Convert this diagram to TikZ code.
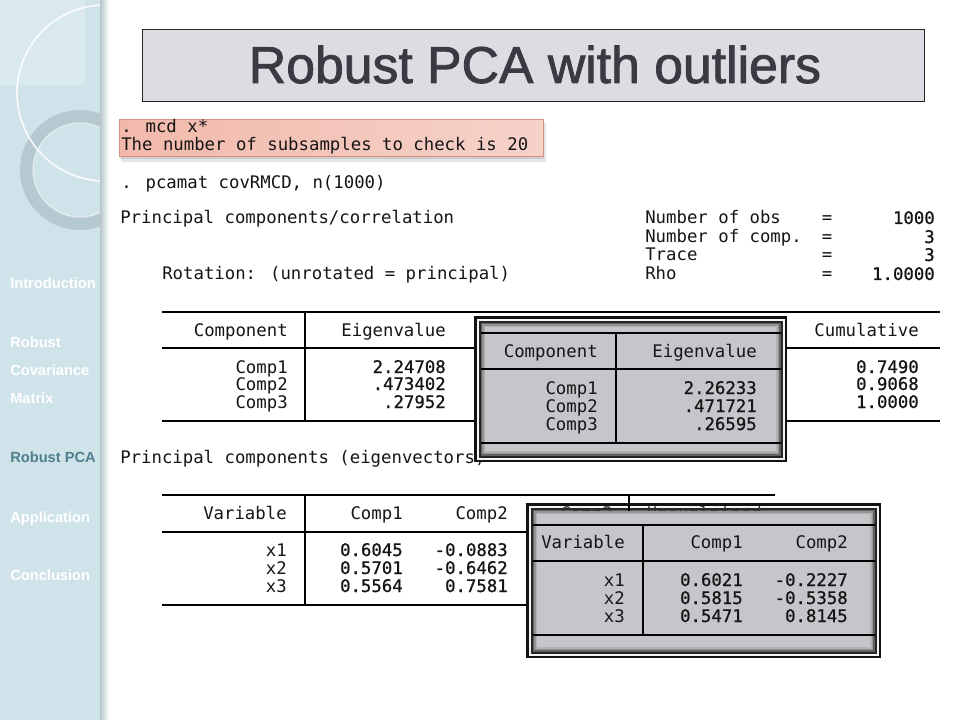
\documentclass[tikz,border=0pt]{standalone}
\usepackage{fontspec}
\setmainfont{Liberation Sans}
\newfontfamily\smono{DejaVu Sans Mono}
\newfontfamily\smonob[FakeBold=0.9]{DejaVu Sans Mono}
\newfontfamily\titlefont[FakeBold=1.6]{Liberation Sans}
\usetikzlibrary{patterns}
\definecolor{sidebg}{HTML}{CDE2E9}
\definecolor{sidelight}{HTML}{DAE9EE}
\definecolor{ringc}{HTML}{B6C9D0}
\definecolor{menuact}{HTML}{4F7F8C}
\definecolor{titlebg}{HTML}{DCDCE3}
\definecolor{titlec}{HTML}{3A3A43}
\definecolor{pinkL}{HTML}{F2B9AB}
\definecolor{pinkR}{HTML}{F6D2C9}
\definecolor{pinkB}{HTML}{D4917F}
\definecolor{txc}{HTML}{151515}
\definecolor{boxin}{HTML}{C5C5CA}
\tikzset{
  menu/.style={anchor=base west, inner sep=0, font=\fontsize{11}{13}\selectfont\bfseries, text=white},
  tx/.style={inner sep=0, font=\smono\fontsize{13}{15}\selectfont, text=txc},
  tw/.style={tx, anchor=base west},
  te/.style={tx, anchor=base east},
  tc/.style={tx, anchor=base},
  tb/.style={tx, anchor=base east, font=\smonob\fontsize{13}{15}\selectfont},
  tl/.style={line width=0.9pt, black},
}
\begin{document}
\begin{tikzpicture}[x=0.75pt,y=-0.75pt]
\useasboundingbox (0,0) rectangle (960,720);
\fill[white] (0,0) rectangle (960,720);
% ---------------- sidebar
\fill[sidebg] (0,0) rectangle (104,720);
\fill[pattern=crosshatch dots, pattern color=white, opacity=0.35] (0,0) rectangle (104,720);
\begin{scope}
  \clip (0,0) rectangle (103,720);
  \fill[sidelight] (0,0) rectangle (85,85);
  \draw[ringc, line width=9.75pt] (80,170) circle (53.5);
  \draw[white!70!ringc, line width=0.8pt] (80,170) circle (47);
  \draw[white, line width=1.2pt, opacity=0.9] (105,93) circle (88);
\end{scope}
\shade[left color=sidebg!85!black!90, right color=white] (100,0) rectangle (109,720);
\node[menu] (m1) at (10,288) {Introduction};
\node[menu] (m2) at (10,347) {Robust};
\node[menu] (m3) at (10,375) {Covariance};
\node[menu] (m4) at (10,403) {Matrix};
\node[menu, text=menuact] (m5) at (10,462) {Robust PCA};
\node[menu] (m6) at (10,522) {Application};
\node[menu] (m7) at (10,580) {Conclusion};
% ---------------- title
\draw[fill=titlebg, draw=black!85, line width=0.75pt] (142,30) rectangle (924,102);
\node[anchor=base, inner sep=0, font=\titlefont\fontsize{38.8}{40}\selectfont, text=titlec] (title) at (535,83) {Robust PCA with outliers};
% ---------------- pink box
\fill[black, opacity=0.10] (121,123) rectangle (546,162);
\fill[black, opacity=0.10] (120,122) rectangle (544,159.5);
\shade[left color=pinkL, right color=pinkR] (119,120) rectangle (543,157);
\draw[pinkB, line width=0.75pt] (119,120) rectangle (543,157);
\node[tw] (p1) at (121,133) {. mcd x*};
\node[tw] (p2) at (121,151) {The number of subsamples to check is 20};
\node[tw] (cmd) at (121,189) {. pcamat covRMCD, n(1000)};
% ---------------- header info
\node[tw] (h1) at (120,224) {Principal components/correlation};
\node[tw] (h2) at (162,280) {Rotation: (unrotated = principal)};
\node[tw] (n1) at (645,224) {Number of obs};
\node[tw] (n2) at (645,243) {Number of comp.};
\node[tw] (n3) at (645,261) {Trace};
\node[tw] (n4) at (645,280) {Rho};
\node[tc] (e1) at (827,224) {=};
\node[tc] (e2) at (827,243) {=};
\node[tc] (e3) at (827,261) {=};
\node[tc] (e4) at (827,280) {=};
\node[tb] (v1) at (935,224) {1000};
\node[tb] (v2) at (935,243) {3};
\node[tb] (v3) at (935,261) {3};
\node[tb] (v4) at (935,280) {1.0000};
% ---------------- table 1
\draw[tl] (162,312) -- (940,312);
\draw[tl] (162,348) -- (940,348);
\draw[tl] (162,421) -- (940,421);
\draw[tl] (305,312) -- (305,421);
\node[te] (t1h1) at (288,336) {Component};
\node[te] (t1h2) at (446,336) {Eigenvalue};
\node[te] (t1h5) at (919,336) {Cumulative};
\node[te] (t1r1) at (288,373) {Comp1};
\node[te] (t1r2) at (288,390) {Comp2};
\node[te] (t1r3) at (288,408) {Comp3};
\node[tb] (t1a1) at (446,373) {2.24708};
\node[tb] (t1a2) at (446,390) {.473402};
\node[tb] (t1a3) at (446,408) {.27952};
\node[tb] (t1c1) at (919,373) {0.7490};
\node[tb] (t1c2) at (919,390) {0.9068};
\node[tb] (t1c3) at (919,408) {1.0000};
\node[tw] (h3) at (120,463) {Principal components (eigenvectors)};
% ---------------- box 1
\fill[black!93] (474,316) rectangle (787,462);
\fill[white!92!gray] (476.5,318.5) rectangle (784.5,459.5);
\fill[black!85] (478.5,320.5) rectangle (782.5,457.5);
\fill[black!62] (480.5,322.5) rectangle (780.5,455.5);
\fill[black!42] (482,324) rectangle (779,454);
\fill[black!30] (483.5,325.5) rectangle (777.5,452.5);
\fill[boxin] (485,327) rectangle (776,451);
\draw[tl] (480.5,333) -- (780.5,333);
\draw[tl] (480.5,369) -- (780.5,369);
\draw[tl] (480.5,443) -- (780.5,443);
\draw[tl] (616,333) -- (616,443);
\node[te] (b1h1) at (598,357) {Component};
\node[te] (b1h2) at (757,357) {Eigenvalue};
\node[te] (b1r1) at (598,394) {Comp1};
\node[te] (b1r2) at (598,412) {Comp2};
\node[te] (b1r3) at (598,430) {Comp3};
\node[tb] (b1a1) at (757,394) {2.26233};
\node[tb] (b1a2) at (757,412) {.471721};
\node[tb] (b1a3) at (757,430) {.26595};
% ---------------- table 2
\draw[tl] (162,495) -- (775,495);
\draw[tl] (162,532) -- (775,532);
\draw[tl] (162,605) -- (775,605);
\draw[tl] (305,495) -- (305,605);
\draw[tl] (629,495) -- (629,605);
\node[te] (t2h1) at (287,519) {Variable};
\node[te] (t2h2) at (403,519) {Comp1};
\node[te] (t2h3) at (508,519) {Comp2};
\node[te] (t2r1) at (287,556) {x1};
\node[te] (t2r2) at (287,574) {x2};
\node[te] (t2r3) at (287,592) {x3};
\node[tb] (t2a1) at (403,556) {0.6045};
\node[tb] (t2a2) at (403,574) {0.5701};
\node[tb] (t2a3) at (403,592) {0.5564};
\node[tb] (t2b1) at (508,556) {-0.0883};
\node[tb] (t2b2) at (508,574) {-0.6462};
\node[tb] (t2b3) at (508,592) {0.7581};
% ---------------- box 2
\fill[black!93] (526,503) rectangle (881,658);
\fill[white!92!gray] (528.5,505.5) rectangle (878.5,655.5);
\fill[black!85] (530.5,507.5) rectangle (876.5,653.5);
\fill[black!62] (532.5,509.5) rectangle (874.5,651.5);
\fill[black!42] (534,511) rectangle (873,650);
\fill[black!30] (535.5,512.5) rectangle (871.5,648.5);
\fill[boxin] (537,514) rectangle (870,647);
\begin{scope}
  \clip (526,505) rectangle (881,510);
  \draw[tl] (629,495) -- (629,515);
  \node[te, text=black!80] (t2h4) at (613,519) {Comp3};
  \node[te, text=black!80] (t2h5) at (762,519) {Unexplained};
\end{scope}
\draw[tl] (532.5,525) -- (874.5,525);
\draw[tl] (532.5,561) -- (874.5,561);
\draw[tl] (532.5,635) -- (874.5,635);
\draw[tl] (643,525) -- (643,635);
\node[te] (b2h1) at (625,548) {Variable};
\node[te] (b2h2) at (743,548) {Comp1};
\node[te] (b2h3) at (848,548) {Comp2};
\node[te] (b2r1) at (625,586) {x1};
\node[te] (b2r2) at (625,604) {x2};
\node[te] (b2r3) at (625,622) {x3};
\node[tb] (b2a1) at (743,586) {0.6021};
\node[tb] (b2a2) at (743,604) {0.5815};
\node[tb] (b2a3) at (743,622) {0.5471};
\node[tb] (b2b1) at (848,586) {-0.2227};
\node[tb] (b2b2) at (848,604) {-0.5358};
\node[tb] (b2b3) at (848,622) {0.8145};
\end{tikzpicture}
\end{document}
